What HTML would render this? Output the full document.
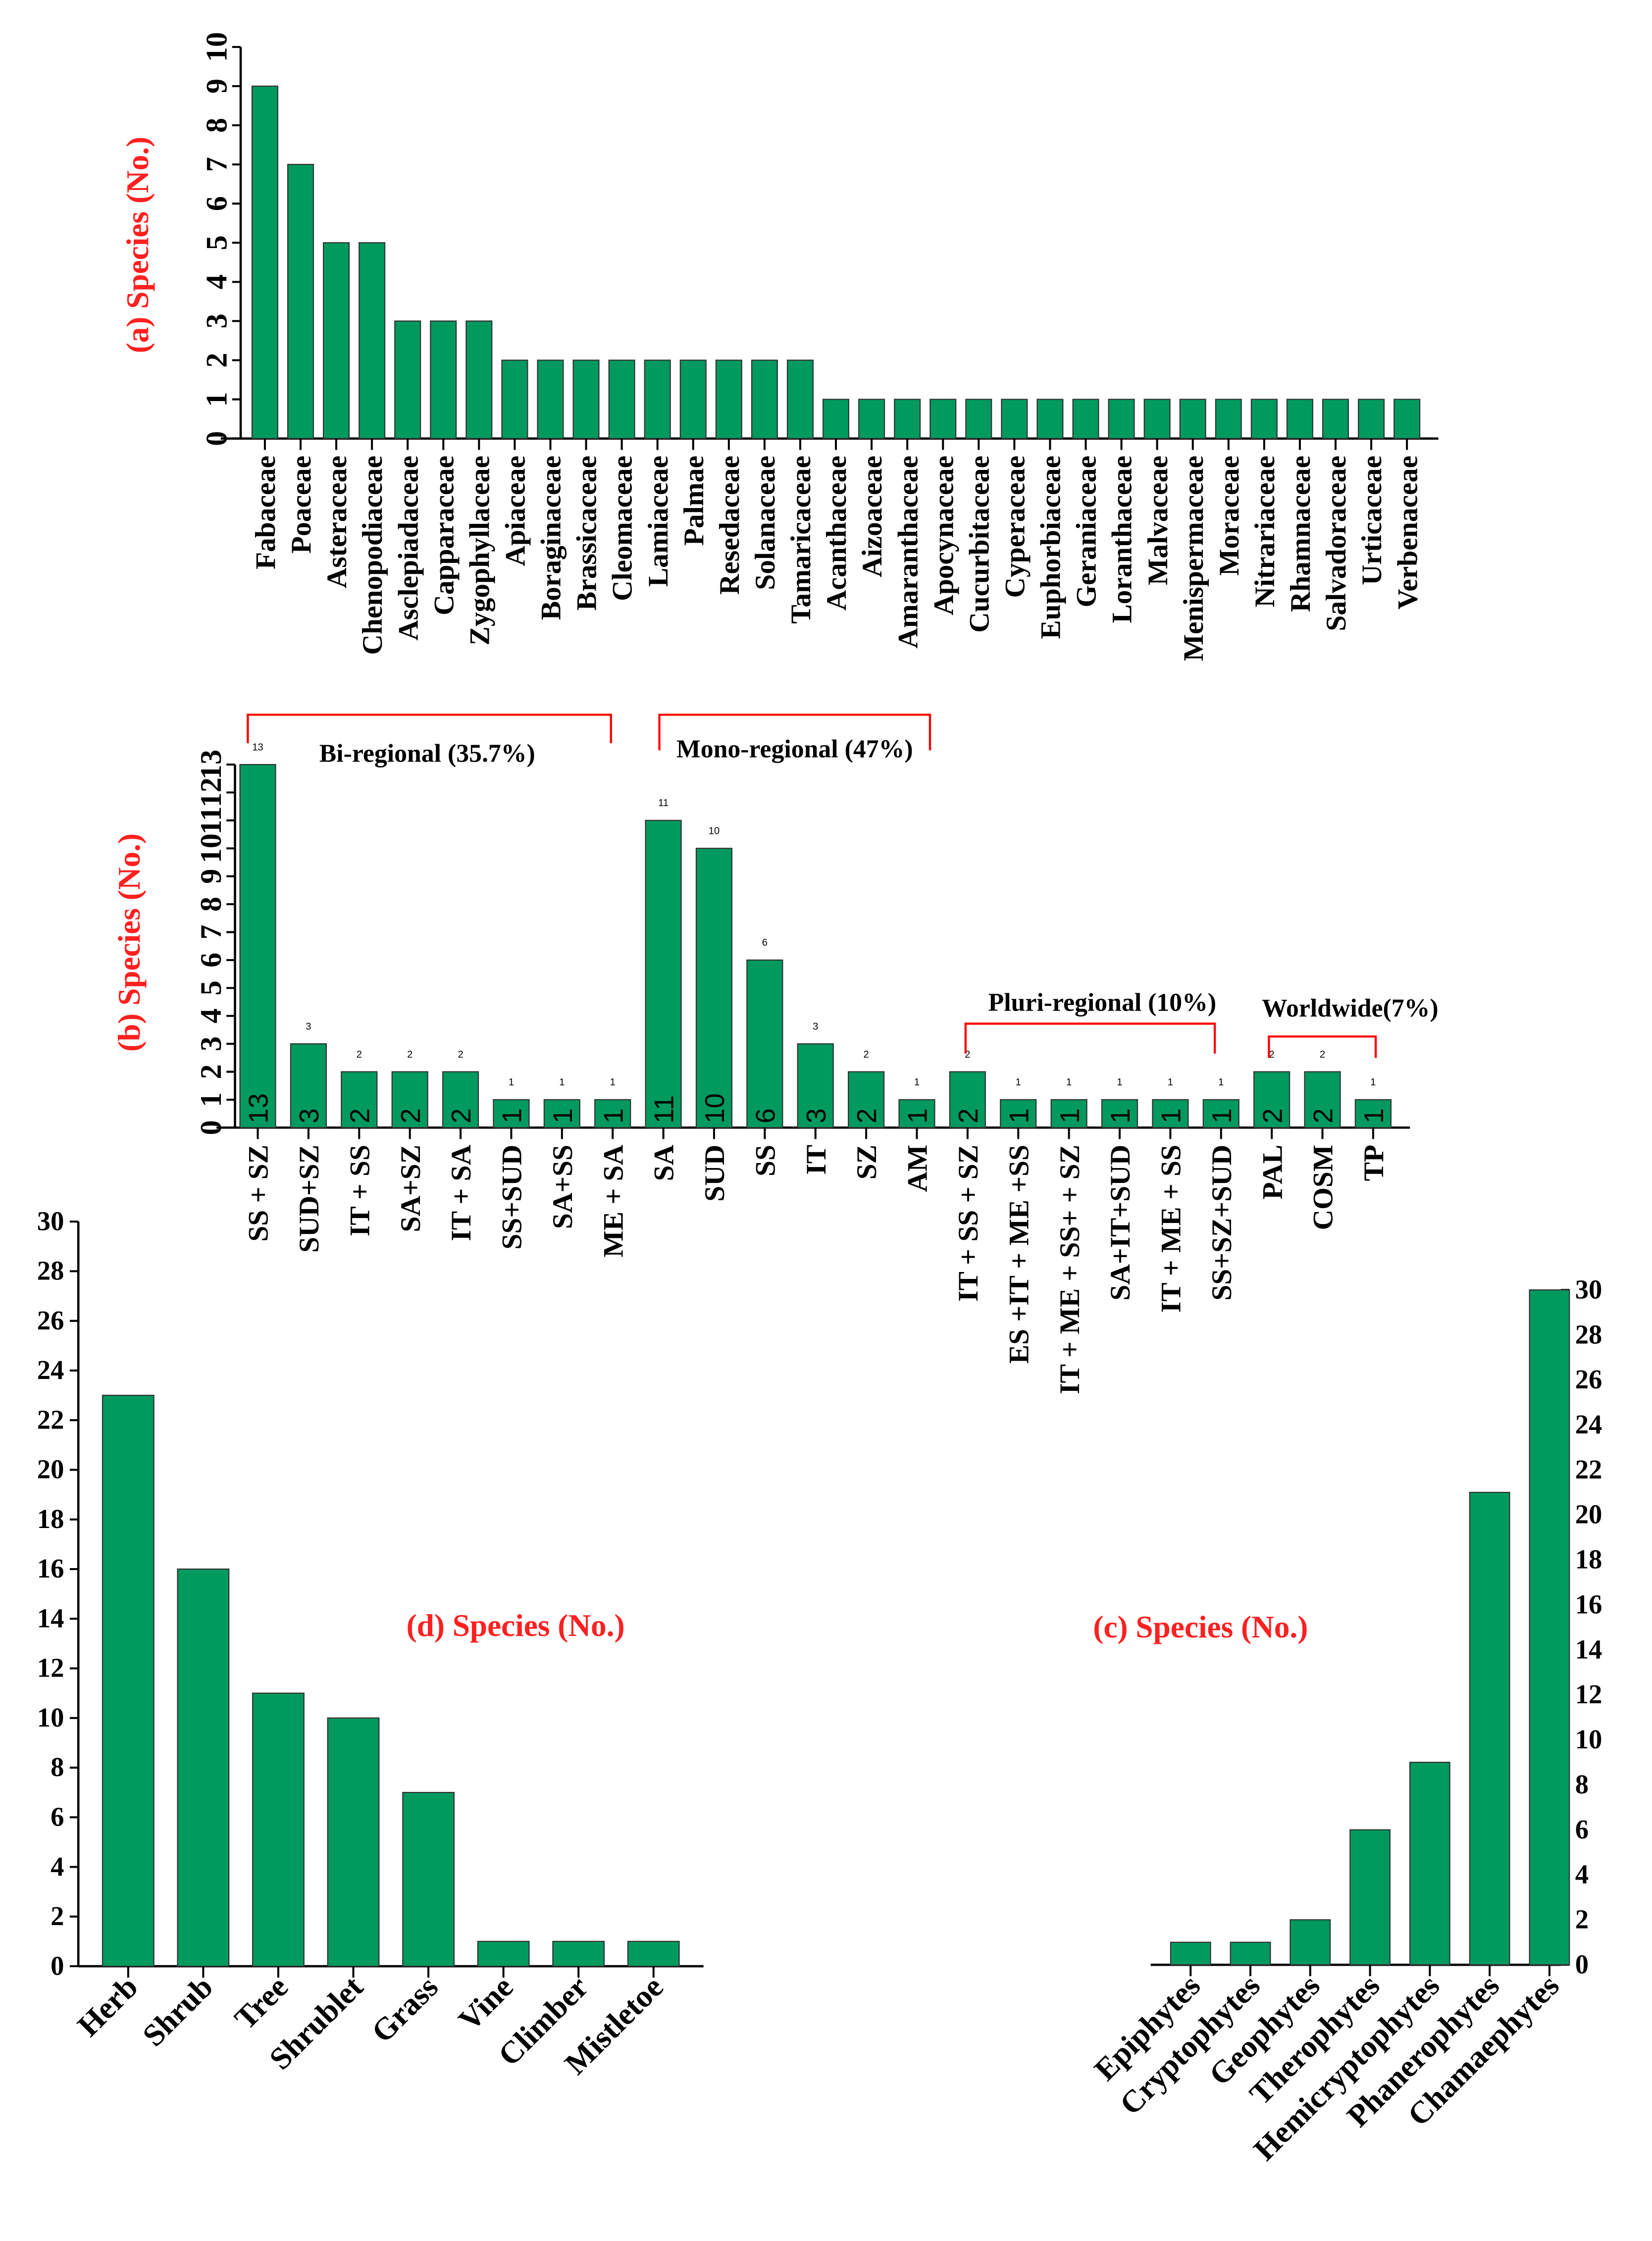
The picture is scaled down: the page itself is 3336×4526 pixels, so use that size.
<!DOCTYPE html>
<html><head><meta charset="utf-8"><style>html,body{margin:0;padding:0;background:#fff}svg{display:block}</style></head>
<body>
<svg id="fig" width="3336" height="4526" viewBox="0 0 1160 1574" preserveAspectRatio="none" xmlns="http://www.w3.org/2000/svg" font-family="Liberation Serif, serif"></svg>
<script>
const famNames=["Fabaceae","Poaceae","Asteraceae","Chenopodiaceae","Asclepiadaceae","Capparaceae","Zygophyllaceae","Apiaceae","Boraginaceae","Brassicaceae","Cleomaceae","Lamiaceae","Palmae","Resedaceae","Solanaceae","Tamaricaceae","Acanthaceae","Aizoaceae","Amaranthaceae","Apocynaceae","Cucurbitaceae","Cyperaceae","Euphorbiaceae","Geraniaceae","Loranthaceae","Malvaceae","Menispermaceae","Moraceae","Nitrariaceae","Rhamnaceae","Salvadoraceae","Urticaceae","Verbenaceae"];
const famVals=[9,7,5,5,3,3,3,2,2,2,2,2,2,2,2,2,1,1,1,1,1,1,1,1,1,1,1,1,1,1,1,1,1];
const famTicks=[0,1,2,3,4,5,6,7,8,9,10];
const chorNames=["SS + SZ","SUD+SZ","IT + SS","SA+SZ","IT + SA","SS+SUD","SA+SS","ME + SA","SA","SUD","SS","IT","SZ","AM","IT + SS + SZ","ES +IT + ME +SS","IT + ME + SS+ + SZ","SA+IT+SUD","IT + ME + SS","SS+SZ+SUD","PAL","COSM","TP"];
const chorVals=[13,3,2,2,2,1,1,1,11,10,6,3,2,1,2,1,1,1,1,1,2,2,1];
const chorTicks=[0,1,2,3,4,5,6,7,8,9,10,11,12,13];
const habitNames=["Herb","Shrub","Tree","Shrublet","Grass","Vine","Climber","Mistletoe"];
const habitVals=[23,16,11,10,7,1,1,1];
const habitTicks=[0,2,4,6,8,10,12,14,16,18,20,22,24,26,28,30];
const lifeNames=["Epiphytes","Cryptophytes","Geophytes","Therophytes","Hemicryptophytes","Phanerophytes","Chamaephytes"];
const lifeVals=[1,1,2,6,9,21,30];
const lifeTicks=[0,2,4,6,8,10,12,14,16,18,20,22,24,26,28,30];

const svg=document.getElementById('fig');
const NS='http://www.w3.org/2000/svg';
function mk(tag,attrs,parent,text){const e=document.createElementNS(NS,tag);for(const k in attrs)e.setAttribute(k,attrs[k]);if(text!==undefined)e.textContent=text;(parent||svg).appendChild(e);return e;}
const G='#009a5e';

function chart(o){
  const g=mk('g',{});
  
  
  const y=v=>o.y0-(v/o.ymax)*(o.y0-o.ytop);
  const x=i=>o.x0+i*o.step;
  const ax=mk('line',{x1:o.ax,y1:o.ytop,x2:o.ax,y2:o.y0,stroke:'#000','stroke-width':1.6},g);
  
  
  const xl=mk('line',{x1:o.xa1,y1:o.y0,x2:o.xa2,y2:o.y0,stroke:'#000','stroke-width':1.6},g);
  
  
  const side=o.right?1:-1;
  o.ticks.forEach(t=>{
    const yy=y(t);
    mk('line',{x1:o.ax,y1:yy,x2:o.ax+side*6,y2:yy,stroke:'#000','stroke-width':1.4},g);
    let tl;
    if(o.rotTicks){
      tl=mk('text',{x:0,y:0,transform:`translate(${o.ax-10},${yy}) rotate(-90)`,'text-anchor':'middle','font-size':21,'font-weight':'bold'},g,String(t));
    }else{
      tl=mk('text',{x:o.ax+side*10,y:yy+6,'text-anchor':o.right?'start':'end','font-size':19,'font-weight':'bold'},g,String(t));
    }
    
    
  });
  o.vals.forEach((v,i)=>{
    const cx=x(i);
    const b=mk('rect',{x:cx-o.bw/2,y:y(v),width:o.bw,height:o.y0-y(v),fill:G,stroke:'#333','stroke-width':0.8},g);
    
    
    mk('line',{x1:cx,y1:o.y0,x2:cx,y2:o.y0+8,stroke:'#000','stroke-width':1.4},g);
    let lab;
    if(o.diag){
      lab=mk('text',{x:0,y:0,transform:`translate(${cx+8},${o.y0+16}) rotate(-45)`,'text-anchor':'end','font-size':22,'font-weight':'bold'},g,o.names[i]);
    }else{
      lab=mk('text',{x:0,y:0,transform:`translate(${cx+7},${o.y0+12}) rotate(-90)`,'text-anchor':'end','font-size':20,'font-weight':'bold'},g,o.names[i]);
    }
    
    
    if(o.inner){
      const it=mk('text',{x:0,y:0,transform:`translate(${cx+7},${o.y0-3}) rotate(-90)`,'font-size':19,'font-family':'Liberation Sans, sans-serif'},g,String(v));
      
      
      const vt=mk('text',{x:cx,y:y(v)-10,'text-anchor':'middle','font-size':7,'font-family':'Liberation Sans, sans-serif'},g,String(v));
      
      
    }
  });
  const tt=o.titleRot?
    mk('text',{x:0,y:0,transform:`translate(${o.tx},${o.ty}) rotate(-90)`,'text-anchor':'middle','font-size':22,'font-weight':'bold',fill:'#ff2020'},g,o.title):
    mk('text',{x:o.tx,y:o.ty,'text-anchor':'middle','font-size':22,'font-weight':'bold',fill:'#ff2020'},g,o.title);
  
  
}
chart({name:'chart-a-families',names:famNames,vals:famVals,ticks:famTicks,ymax:10,y0:308,ytop:33,ax:169,xa1:155,xa2:1010,x0:186,step:25.06,bw:18,rotTicks:true,title:'(a) Species (No.)',titleRot:true,tx:104,ty:172});
chart({name:'chart-b-chorotypes',names:chorNames,vals:chorVals,ticks:chorTicks,ymax:13,y0:792,ytop:537,ax:165,xa1:152,xa2:990,x0:181,step:35.6,bw:25,rotTicks:true,inner:true,title:'(b) Species (No.)',titleRot:true,tx:98,ty:662});
chart({name:'chart-d-habit',names:habitNames,vals:habitVals,ticks:habitTicks,ymax:30,y0:1381,ytop:858,ax:55,xa1:55,xa2:494,x0:90,step:52.7,bw:36,diag:true,title:'(d) Species (No.)',tx:362,ty:1149});
chart({name:'chart-c-life-forms',names:lifeNames,vals:lifeVals,ticks:lifeTicks,ymax:30,y0:1380,ytop:906,ax:1096,xa1:808,xa2:1096,x0:836,step:42,bw:28,diag:true,right:true,title:'(c) Species (No.)',tx:843,ty:1150});

function bracket(name,x1,x2,yt,yb1,yb2,label,lx,ly){
  const p=mk('path',{d:`M${x1},${yb1} V${yt} H${x2} V${yb2}`,fill:'none',stroke:'#ff0000','stroke-width':1.5});
  
  
  const t=mk('text',{x:lx,y:ly,'text-anchor':'middle','font-size':18,'font-weight':'bold'},svg,label);
  
  
}
bracket('bi-regional',174,429,502,522,522,'Bi-regional (35.7%)',300,535);
bracket('mono-regional',463,653,502,527,527,'Mono-regional (47%)',558,532);
bracket('pluri-regional',678,853,719,740,740,'Pluri-regional (10%)',774,710);
bracket('worldwide',891,966,728,743,743,'Worldwide(7%)',948,714);
</script>
</body></html>
